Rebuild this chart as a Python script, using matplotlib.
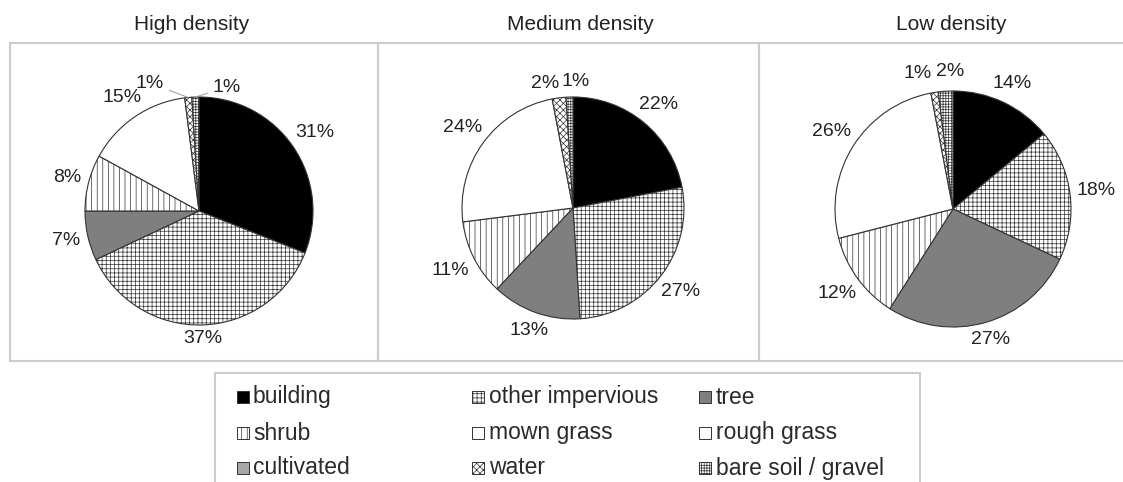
import numpy as np
import matplotlib.pyplot as plt
from matplotlib.patches import Rectangle

plt.rcParams['font.family'] = ['Liberation Sans', 'DejaVu Sans']
plt.rcParams['hatch.linewidth'] = 0.5
plt.rcParams['hatch.color'] = '#333333'

categories = ['building', 'other impervious', 'tree', 'shrub', 'mown grass',
              'rough grass', 'cultivated', 'water', 'bare soil / gravel']
high = [31, 37, 7, 8, 15, 0, 0, 1, 1]
medium = [22, 27, 13, 11, 24, 0, 0, 2, 1]
low = [14, 18, 27, 12, 26, 0, 0, 1, 2]
titles = ['High density', 'Medium density', 'Low density']

faces = ['black', 'white', '#7f7f7f', 'white', 'white', 'white', '#a6a6a6', 'white', 'white']
hatches = [None, '++++', None, '|||', None, None, None, 'xxxxx', '++++++']

W, H = 1123, 482
fig = plt.figure(figsize=(W / 100, H / 100), dpi=100)
ax = fig.add_axes([0, 0, 1, 1])

# layout in pixels (y measured from top)
centers = [(199, 211), (573, 208), (953, 209)]
radii = [114, 111, 118]
title_x = [192, 580, 951]
panels = [(10, 368), (378, 381), (759, 370)]
# positions of the tiny slice labels (water, bare soil)
small_pos = [[(150, 83), (227, 87)], [(545, 84), (576, 82)], [(918, 73), (950, 72)]]

for k, vals in enumerate([high, medium, low]):
    x0, pw = panels[k]
    ax.add_patch(Rectangle((x0, H - 361), pw, 318, fill=False, ec='#cccccc', lw=1.5))
    ax.text(title_x[k], H - 25, titles[k], ha='center', va='center', fontsize=15, color='#222222')

    idx = [i for i, v in enumerate(vals) if v > 0]
    cx, cy = centers[k]
    r = radii[k]
    wedges, _ = ax.pie([vals[i] for i in idx], center=(cx, H - cy), radius=r,
                       startangle=90, counterclock=False, frame=True,
                       colors=[faces[i] for i in idx],
                       wedgeprops=dict(edgecolor='#333333', linewidth=0.8))
    n_small = 0
    for w, i in zip(wedges, idx):
        if hatches[i]:
            w.set_hatch(hatches[i])
        s = f'{vals[i]}%'
        th = np.deg2rad((w.theta1 + w.theta2) / 2)
        c, sn = np.cos(th), np.sin(th)
        if vals[i] <= 2:
            tx, ty = small_pos[k][n_small]
            n_small += 1
            if k == 0:
                ax.annotate(s, xy=(cx + r * c, H - cy + r * sn), xytext=(tx, H - ty),
                            ha='center', va='center', fontsize=14, color='#222222',
                            arrowprops=dict(arrowstyle='-', color='#999999', lw=0.7,
                                            shrinkA=2, shrinkB=0))
            else:
                ax.text(tx, H - ty, s, ha='center', va='center', fontsize=14, color='#222222')
            continue
        hw = 5 * len(s) + 4.5
        d = r + 6 + abs(c) * hw + abs(sn) * 7
        ax.text(cx + d * c, H - cy + d * sn, s, ha='center', va='center',
                fontsize=14, color='#222222')

# legend box
ax.add_patch(Rectangle((215, H - 500), 705, 127, fill=False, ec='#cccccc', lw=1.5))
mark_x = [237, 472, 699]
text_x = [253, 489, 716]
row_y = [397, 433, 468]
for j, name in enumerate(categories):
    row, col = divmod(j, 3)
    yy = H - row_y[row]
    ax.add_patch(Rectangle((mark_x[col], yy - 6), 12, 12, facecolor=faces[j],
                           hatch=hatches[j], ec='#333333', lw=0.7))
    ax.text(text_x[col], yy, name, ha='left', va='center', fontsize=16.5, color='#2a2a2a')

ax.set_xlim(0, W)
ax.set_ylim(0, H)
ax.axis('off')
fig.savefig('out.png', dpi=100)
